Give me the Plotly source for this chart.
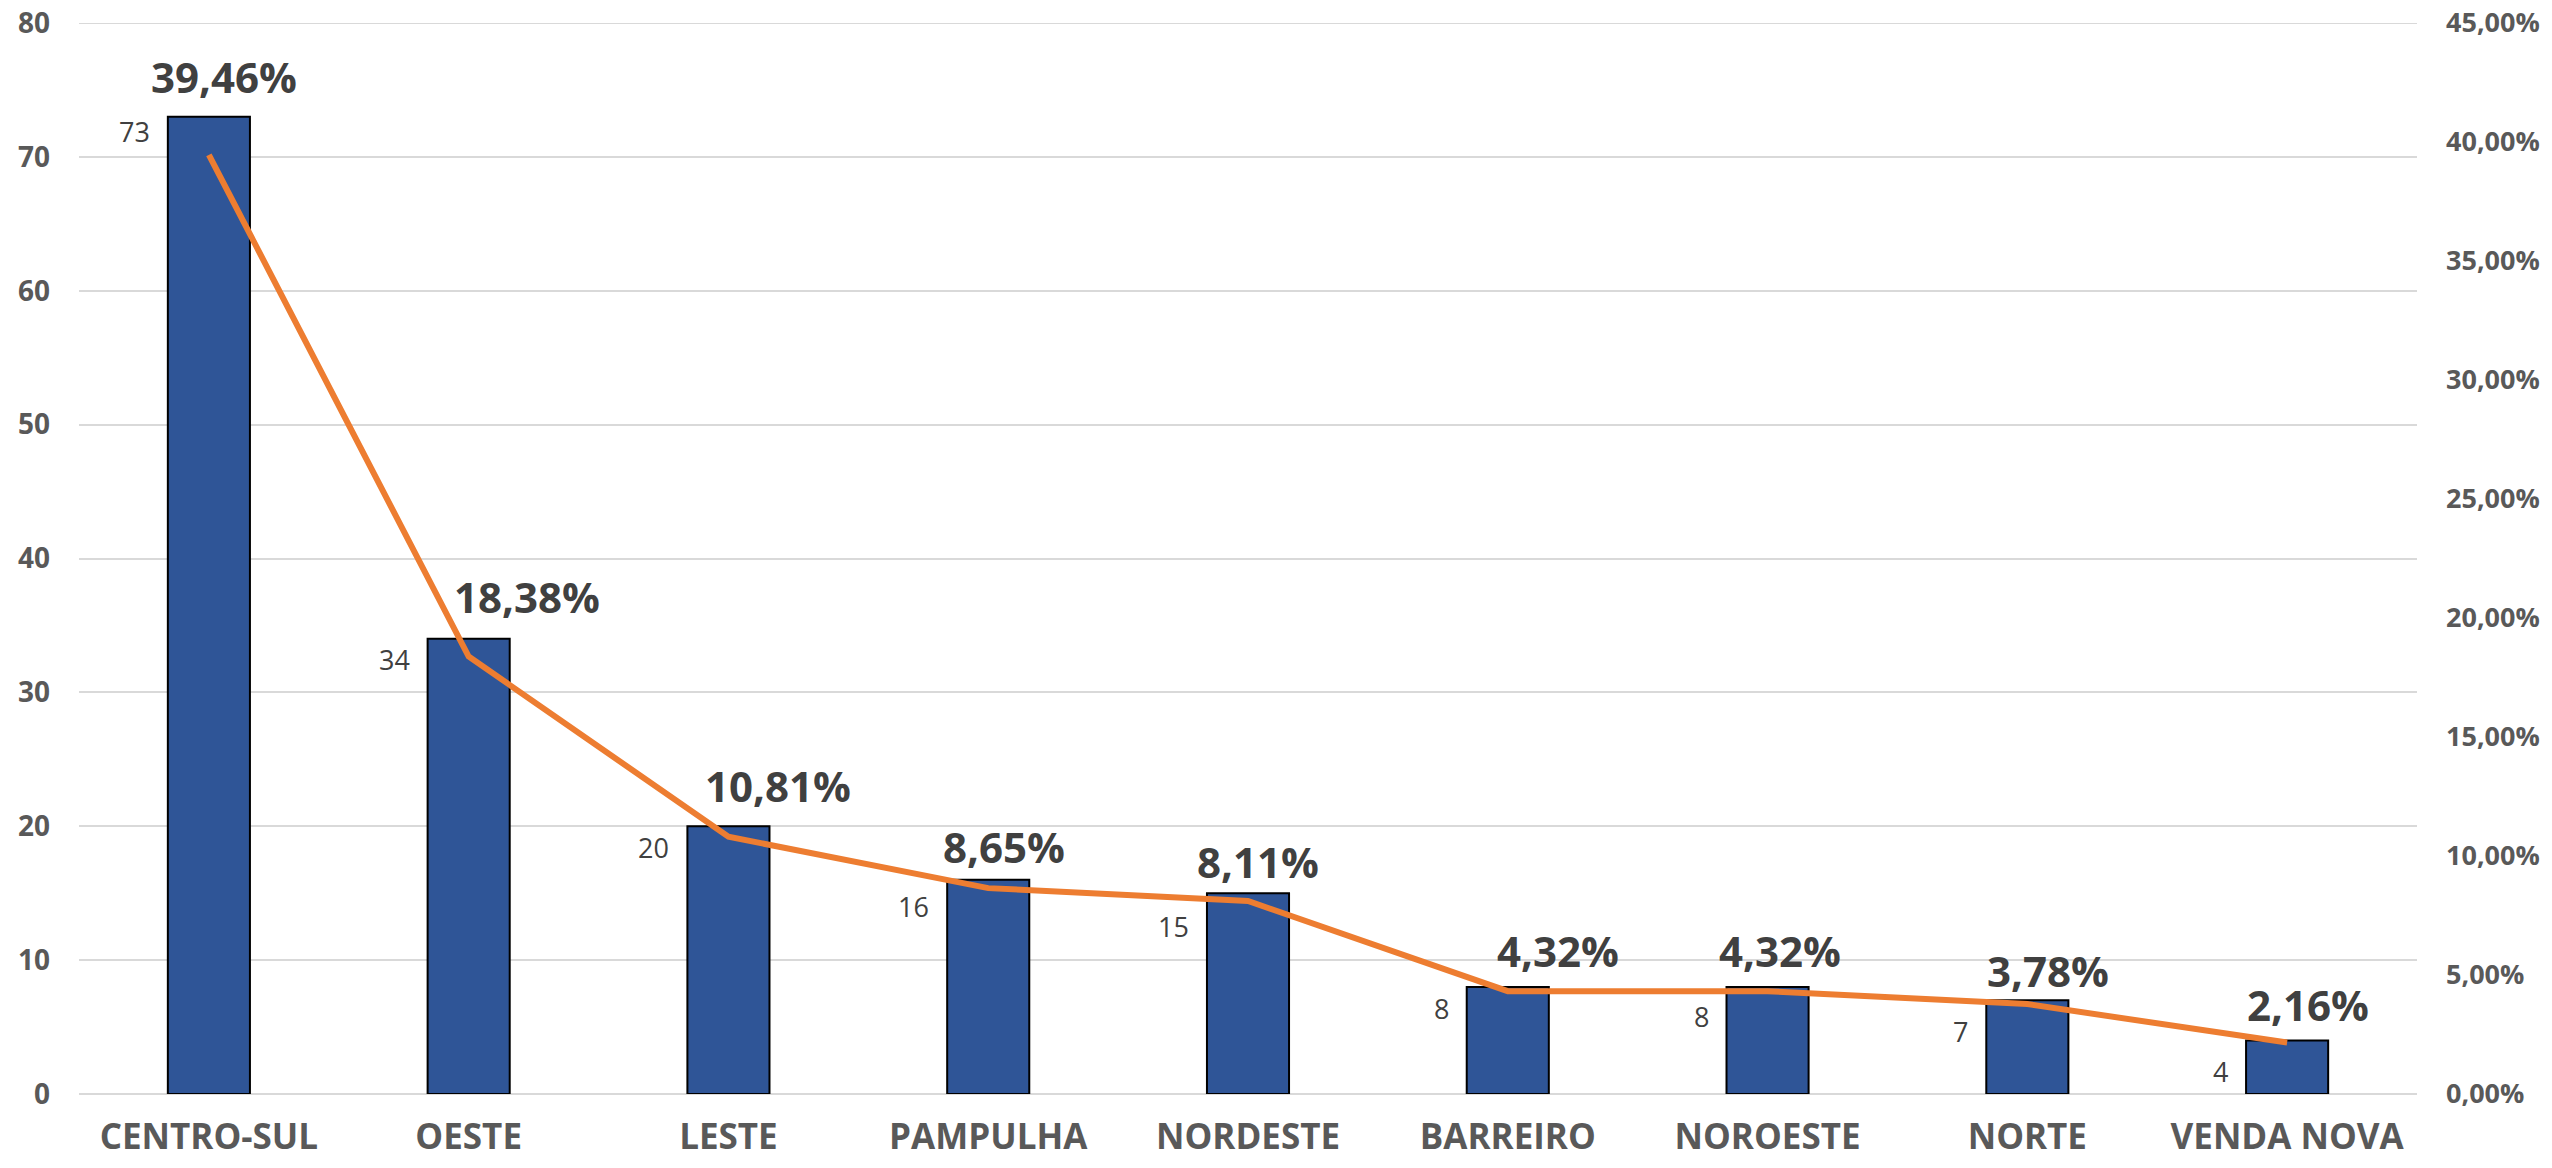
import plotly.graph_objects as go

categories = ["CENTRO-SUL", "OESTE", "LESTE", "PAMPULHA", "NORDESTE",
              "BARREIRO", "NOROESTE", "NORTE", "VENDA NOVA"]
counts = [73, 34, 20, 16, 15, 8, 8, 7, 4]
shares = [0.3946, 0.1838, 0.1081, 0.0865, 0.0811, 0.0432, 0.0432, 0.0378, 0.0216]
share_labels = ["39,46%", "18,38%", "10,81%", "8,65%", "8,11%",
                "4,32%", "4,32%", "3,78%", "2,16%"]
y_ticks = [0, 10, 20, 30, 40, 50, 60, 70, 80]
y2_ticks = [0, 0.05, 0.10, 0.15, 0.20, 0.25, 0.30, 0.35, 0.40, 0.45]
y2_tick_labels = ["0,00%", "5,00%", "10,00%", "15,00%", "20,00%",
                  "25,00%", "30,00%", "35,00%", "40,00%", "45,00%"]

# label placement offsets (pixels) - styling only
pct_dx = [15, 58, 50, 16, 10, 50, 12, 21, 21]
pct_dy = [40, 42, 41, 33, 32, 36, 36, 30, 36]
cnt_dy = [15, 21, 21, 27, 33, 22, 30, 31, 31]

FONT = "Open Sans"
GRID = "#D9D9D9"
fig = go.Figure()
fig.add_trace(go.Bar(
    x=categories, y=counts, yaxis="y",
    marker=dict(color="#2F5597", line=dict(color="#000000", width=2)),
    showlegend=False, hoverinfo="skip",
))
fig.add_trace(go.Scatter(
    x=categories, y=shares, yaxis="y2", mode="lines",
    line=dict(color="#ED7D31", width=6),
    showlegend=False, hoverinfo="skip",
))

annotations = []
for i, c in enumerate(categories):
    annotations.append(dict(
        x=c, y=counts[i], xref="x", yref="y", text=share_labels[i],
        showarrow=False, xanchor="center", yanchor="middle",
        xshift=pct_dx[i], yshift=pct_dy[i],
        font=dict(family=FONT, size=42, color="#404040", weight="bold"),
    ))
    annotations.append(dict(
        x=c, y=counts[i], xref="x", yref="y", text=str(counts[i]),
        showarrow=False, xanchor="right", yanchor="middle",
        xshift=-57, yshift=-cnt_dy[i],
        font=dict(family=FONT, size=27, color="#404040"),
    ))

fig.update_layout(
    width=2552, height=1168,
    margin=dict(l=79, r=135, t=23, b=74, pad=0),
    paper_bgcolor="white", plot_bgcolor="white",
    bargap=0.684,
    xaxis=dict(
        categoryorder="array", categoryarray=categories,
        showgrid=False, zeroline=False, showline=False, ticks="",
        tickfont=dict(family=FONT, size=35, color="#595959", weight="bold"),
        ticklabelstandoff=19, automargin=False,
    ),
    yaxis=dict(
        range=[0, 80], tickvals=y_ticks, ticktext=[str(v) for v in y_ticks],
        showgrid=True, gridcolor=GRID, gridwidth=2,
        zeroline=True, zerolinecolor=GRID, zerolinewidth=2,
        showline=False, ticks="", automargin=False,
        ticklabeloverflow="allow",
        tickfont=dict(family=FONT, size=28, color="#595959", weight="bold"),
        ticklabelstandoff=28,
    ),
    yaxis2=dict(
        range=[0, 0.45], overlaying="y", side="right",
        tickvals=y2_ticks, ticktext=y2_tick_labels,
        showgrid=False, zeroline=False, showline=False, ticks="", automargin=False,
        ticklabeloverflow="allow",
        tickfont=dict(family=FONT, size=27, color="#595959", weight="bold"),
        ticklabelstandoff=28,
    ),
    annotations=annotations,
)
# top gridline (plotly drops the gridline lying on the plot edge)
fig.add_shape(type="line", xref="paper", x0=0, x1=1, yref="y", y0=y_ticks[-1], y1=y_ticks[-1],
              line=dict(color=GRID, width=2), layer="below")

# remove the browser's default 8px body margin so the figure fills the window
fig.write_html("out.html", config={"displayModeBar": False},
               post_script="document.body.style.margin='0';")
